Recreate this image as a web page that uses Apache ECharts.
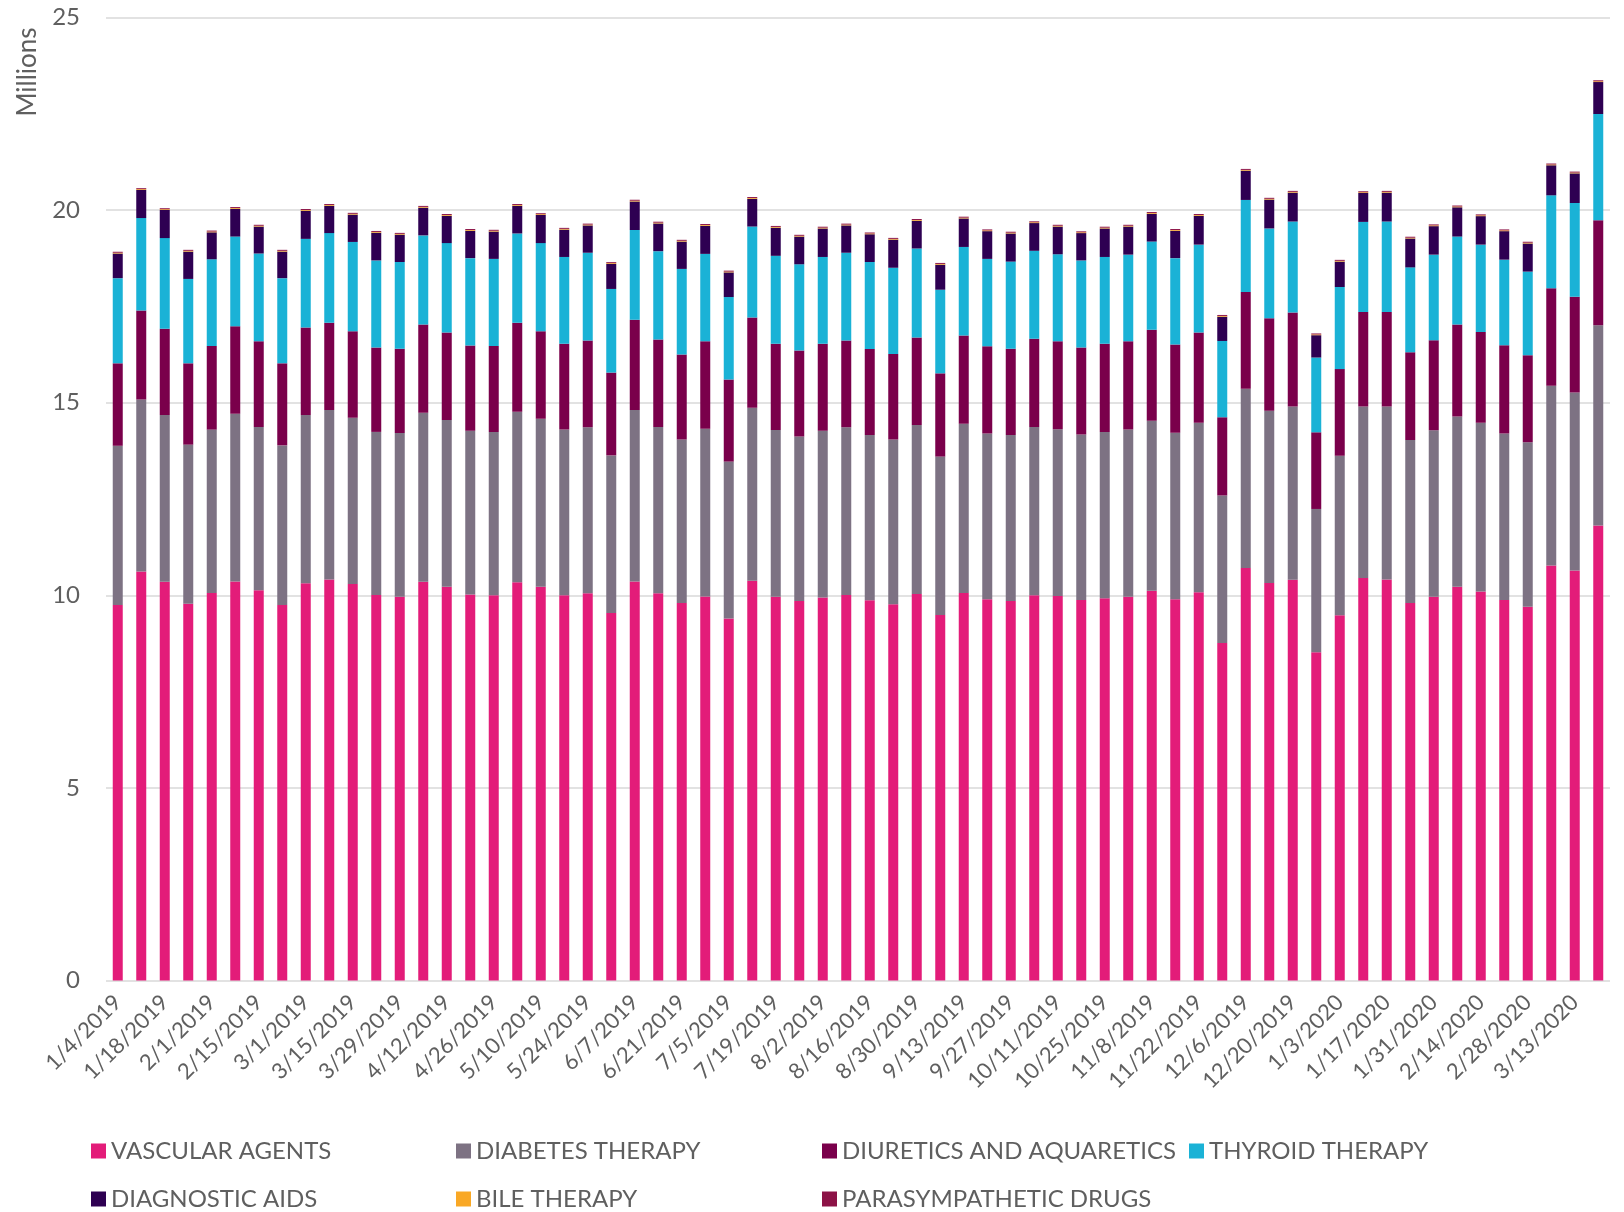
<!DOCTYPE html>
<html>
<head>
<meta charset="utf-8">
<script src="https://cdn.jsdelivr.net/npm/echarts@6/dist/echarts.min.js"></script>
<style>
  html, body { margin: 0; padding: 0; background: #ffffff; }
  #chart { width: 1624px; height: 1212px; }
</style>
</head>
<body>
<div id="chart"></div>
<script>
const categories = [
  "1/4/2019","1/11/2019","1/18/2019","1/25/2019","2/1/2019","2/8/2019","2/15/2019","2/22/2019",
  "3/1/2019","3/8/2019","3/15/2019","3/22/2019","3/29/2019","4/5/2019","4/12/2019","4/19/2019",
  "4/26/2019","5/3/2019","5/10/2019","5/17/2019","5/24/2019","5/31/2019","6/7/2019","6/14/2019",
  "6/21/2019","6/28/2019","7/5/2019","7/12/2019","7/19/2019","7/26/2019","8/2/2019","8/9/2019",
  "8/16/2019","8/23/2019","8/30/2019","9/6/2019","9/13/2019","9/20/2019","9/27/2019","10/4/2019",
  "10/11/2019","10/18/2019","10/25/2019","11/1/2019","11/8/2019","11/15/2019","11/22/2019","11/29/2019",
  "12/6/2019","12/13/2019","12/20/2019","12/27/2019","1/3/2020","1/10/2020","1/17/2020","1/24/2020",
  "1/31/2020","2/7/2020","2/14/2020","2/21/2020","2/28/2020","3/6/2020","3/13/2020","3/20/2020"
];

const vascularAgents = [
  9.75,10.62,10.35,9.78,10.06,10.36,10.13,9.75,10.31,10.41,10.29,10.01,9.96,10.35,10.22,10.02,
  10.00,10.34,10.22,10.00,10.05,9.54,10.36,10.05,9.80,9.97,9.40,10.38,9.96,9.85,9.94,10.01,
  9.87,9.77,10.03,9.49,10.06,9.90,9.85,10.00,9.98,9.88,9.92,9.96,10.12,9.90,10.08,8.76,
  10.71,10.32,10.40,8.52,9.48,10.45,10.41,9.80,9.96,10.22,10.10,9.88,9.70,10.77,10.64,11.81
];
const diabetesTherapy = [
  4.13,4.46,4.33,4.13,4.24,4.35,4.24,4.14,4.37,4.40,4.32,4.23,4.25,4.39,4.33,4.25,
  4.24,4.42,4.36,4.30,4.31,4.09,4.45,4.32,4.24,4.35,4.07,4.49,4.33,4.27,4.33,4.35,
  4.29,4.27,4.39,4.11,4.39,4.30,4.31,4.37,4.33,4.29,4.32,4.34,4.41,4.32,4.40,3.83,
  4.65,4.47,4.50,3.72,4.14,4.45,4.49,4.23,4.32,4.42,4.38,4.32,4.27,4.67,4.62,5.20
];
const diuretics = [
  2.14,2.31,2.24,2.11,2.17,2.27,2.22,2.13,2.27,2.26,2.24,2.19,2.19,2.29,2.27,2.21,
  2.23,2.31,2.27,2.23,2.25,2.15,2.34,2.27,2.21,2.27,2.13,2.34,2.24,2.23,2.26,2.25,
  2.23,2.22,2.27,2.16,2.29,2.26,2.24,2.29,2.28,2.26,2.29,2.29,2.36,2.29,2.34,2.03,
  2.51,2.40,2.44,1.99,2.25,2.45,2.45,2.28,2.34,2.39,2.35,2.29,2.26,2.53,2.49,2.72
];
const thyroidTherapy = [
  2.21,2.40,2.35,2.19,2.25,2.33,2.28,2.21,2.30,2.33,2.32,2.26,2.25,2.31,2.32,2.27,
  2.26,2.32,2.29,2.25,2.28,2.17,2.33,2.29,2.22,2.27,2.14,2.36,2.28,2.24,2.25,2.28,
  2.26,2.24,2.31,2.17,2.30,2.27,2.26,2.28,2.26,2.26,2.25,2.25,2.29,2.24,2.28,1.98,
  2.39,2.33,2.36,1.94,2.13,2.34,2.35,2.20,2.22,2.28,2.27,2.22,2.17,2.41,2.43,2.76
];
const diagnosticAids = [
  0.64,0.73,0.73,0.71,0.70,0.72,0.70,0.69,0.73,0.71,0.71,0.72,0.71,0.72,0.71,0.71,
  0.71,0.72,0.73,0.71,0.71,0.65,0.74,0.72,0.71,0.73,0.64,0.72,0.73,0.72,0.74,0.71,
  0.72,0.73,0.72,0.65,0.74,0.72,0.73,0.72,0.72,0.71,0.74,0.73,0.72,0.71,0.75,0.63,
  0.76,0.75,0.75,0.58,0.66,0.75,0.75,0.75,0.74,0.76,0.74,0.74,0.73,0.78,0.77,0.83
];
const bileTherapy = [
  0.02,0.02,0.02,0.02,0.02,0.02,0.02,0.02,0.02,0.02,0.02,0.02,0.02,0.02,0.02,0.02,
  0.02,0.02,0.02,0.02,0.02,0.02,0.02,0.02,0.02,0.02,0.02,0.02,0.02,0.02,0.02,0.02,
  0.02,0.02,0.02,0.02,0.02,0.02,0.02,0.02,0.02,0.02,0.02,0.02,0.02,0.02,0.02,0.02,
  0.02,0.02,0.02,0.02,0.02,0.02,0.02,0.02,0.02,0.02,0.02,0.02,0.02,0.02,0.02,0.02
];
const parasympatheticDrugs = [
  0.025,0.025,0.025,0.025,0.025,0.025,0.025,0.025,0.025,0.025,0.025,0.025,0.025,0.025,0.025,0.025,
  0.025,0.025,0.025,0.025,0.025,0.025,0.025,0.025,0.025,0.025,0.025,0.025,0.025,0.025,0.025,0.025,
  0.025,0.025,0.025,0.025,0.025,0.025,0.025,0.025,0.025,0.025,0.025,0.025,0.025,0.025,0.025,0.025,
  0.025,0.025,0.025,0.025,0.025,0.025,0.025,0.025,0.025,0.025,0.025,0.025,0.025,0.025,0.025,0.025
];

const seriesNames = [
  "VASCULAR AGENTS","DIABETES THERAPY","DIURETICS AND AQUARETICS","THYROID THERAPY",
  "DIAGNOSTIC AIDS","BILE THERAPY","PARASYMPATHETIC DRUGS"
];
const seriesData = [vascularAgents, diabetesTherapy, diuretics, thyroidTherapy, diagnosticAids, bileTherapy, parasympatheticDrugs];
const seriesColors = ["#E31C79","#7D7283","#7A004B","#1AB2D6","#2E0052","#F9A825","#8C1246"];

const FONT = "Lato, 'Open Sans', sans-serif";
const TEXT_COLOR = "#5f5f5f";

// legend grid positions (column x, row y)
const legendPos = [
  [91, 1139], [456, 1139], [822, 1139], [1189, 1139],
  [91, 1187], [456, 1187], [822, 1187]
];

const chart = echarts.init(document.getElementById('chart'), null, { renderer: 'canvas' });

const option = {
  animation: false,
  backgroundColor: '#ffffff',
  grid: { left: 106, right: 14, top: 17.3, bottom: 231.4, containLabel: false },
  xAxis: {
    type: 'category',
    data: categories,
    axisLine: { show: false },
    axisTick: { show: false },
    axisLabel: {
      interval: 1,
      rotate: 45,
      margin: 18,
      fontSize: 22,
      fontFamily: FONT,
      color: TEXT_COLOR
    }
  },
  yAxis: {
    type: 'value',
    min: 0,
    max: 25,
    interval: 5,
    axisLine: { show: false },
    axisTick: { show: false },
    axisLabel: { fontSize: 24, fontFamily: FONT, color: TEXT_COLOR, margin: 26 },
    splitLine: { lineStyle: { color: '#d9d9d9', width: 1.5 } }
  },
  legend: seriesNames.map((name, i) => ({
    data: [{ name: name, icon: 'rect' }],
    left: legendPos[i][0],
    top: legendPos[i][1],
    padding: 0,
    itemWidth: 15,
    itemHeight: 15,
    textStyle: { fontSize: 24, fontFamily: FONT, color: TEXT_COLOR, padding: [0, 0, 0, 0] }
  })),
  graphic: [{
    type: 'text',
    x: 28,
    y: 72,
    rotation: Math.PI / 2,
    style: {
      text: 'Millions',
      fontSize: 26,
      fontFamily: FONT,
      fill: TEXT_COLOR,
      align: 'center',
      verticalAlign: 'middle'
    }
  }],
  series: seriesNames.map((name, i) => ({
    name: name,
    type: 'bar',
    stack: 'total',
    barWidth: 10,
    data: seriesData[i],
    itemStyle: { color: seriesColors[i] }
  }))
};

chart.setOption(option);
</script>
</body>
</html>
